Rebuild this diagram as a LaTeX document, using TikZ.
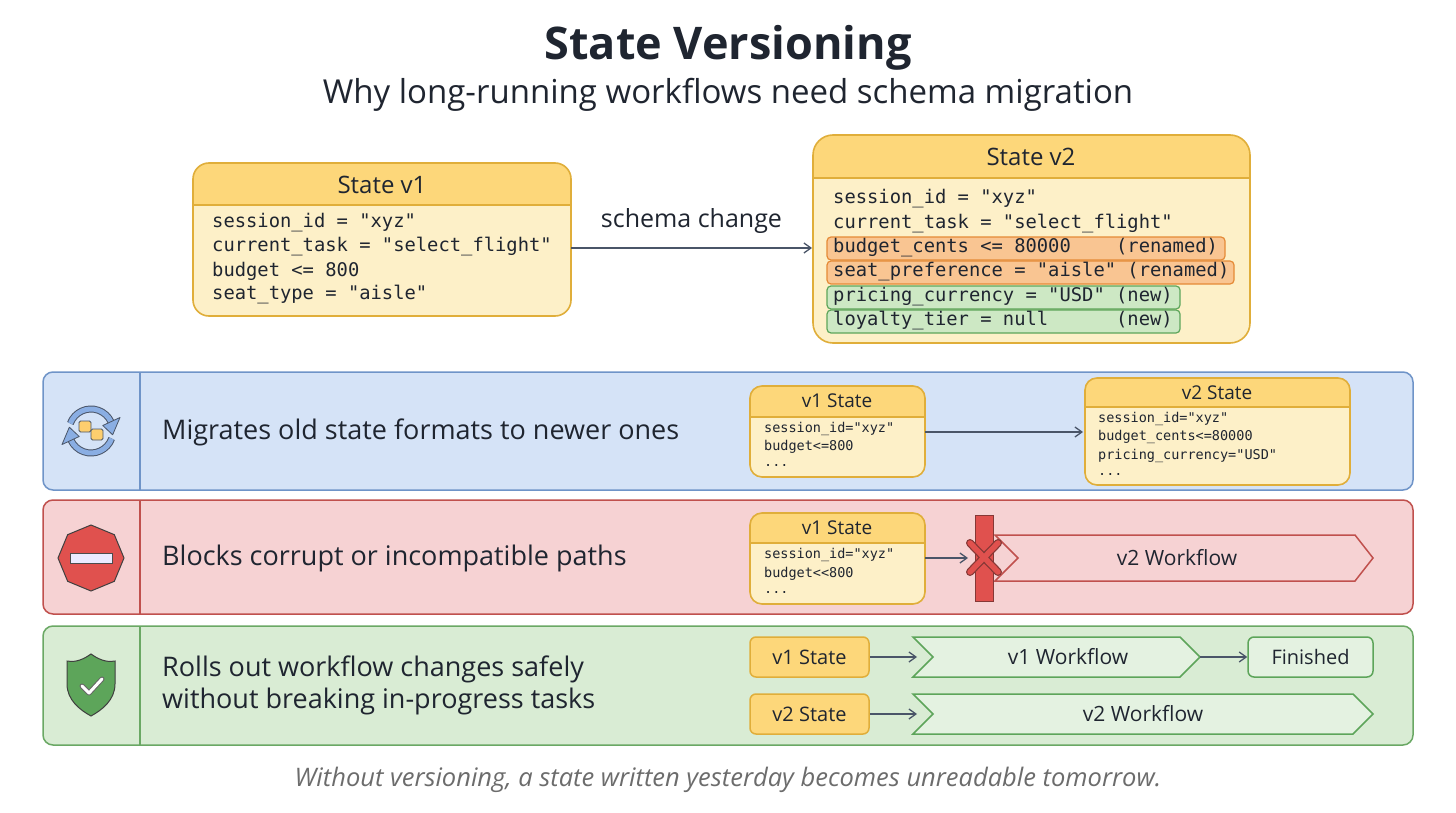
\documentclass[tikz,border=0pt]{standalone}
\usepackage{fontspec}
\setmainfont{Open Sans}
\setmonofont{DejaVu Sans Mono}
\usetikzlibrary{arrows.meta,shapes.geometric}
\definecolor{yhead}{HTML}{FDD77A}
\definecolor{ybody}{HTML}{FDF0C8}
\definecolor{yline}{HTML}{E0AE3A}
\definecolor{ofill}{HTML}{F9C592}
\definecolor{oline}{HTML}{E58A36}
\definecolor{gfill}{HTML}{CDE8C4}
\definecolor{gline}{HTML}{5DA55A}
\definecolor{bband}{HTML}{D5E3F7}
\definecolor{bbord}{HTML}{6F94C8}
\definecolor{bicon}{HTML}{8AAEE3}
\definecolor{rband}{HTML}{F6D2D3}
\definecolor{rbord}{HTML}{C0504D}
\definecolor{ricon}{HTML}{E0514E}
\definecolor{gband}{HTML}{D9ECD4}
\definecolor{gbord}{HTML}{6AA864}
\definecolor{txt}{HTML}{1F2530}
\definecolor{arr}{HTML}{4A5568}
\tikzset{
 mono/.style={font=\ttfamily\fontsize{#1}{#1}\selectfont, anchor=west, text=txt, inner sep=0},
 lbl/.style={font=\fontsize{#1}{#1}\selectfont, text=txt, inner sep=0},
 con/.style={draw=arr, line width=1.3pt, -{Straight Barb[length=7pt,width=10pt]}},
 band/.style={rounded corners=10pt, line width=1.5pt},
}
\newcommand{\statebox}[6]{% x1 y1 x2 y2 yhead r
 \fill[ybody, rounded corners=#6] (#1,#2) rectangle (#3,#4);
 \begin{scope}
 \clip[rounded corners=#6] (#1,#2) rectangle (#3,#4);
 \fill[yhead] (#1,#2) rectangle (#3,#5);
 \end{scope}
 \draw[yline,line width=1.3pt] (#1,#5) -- (#3,#5);
 \draw[yline,line width=1.6pt, rounded corners=#6] (#1,#2) rectangle (#3,#4);
}
\begin{document}
\begin{tikzpicture}[x=1pt,y=-1pt]
\useasboundingbox (0,0) rectangle (1456,813);
\fill[white] (0,0) rectangle (1456,813);
\node[lbl=45, font=\bfseries\fontsize{45}{45}\selectfont] (title) at (728,48) {State Versioning};
\node[lbl=33] (sub) at (728,95) {Why long-running workflows need schema migration};

% State v1
\statebox{193}{163}{571}{316}{205}{16pt}
\node[lbl=24] (v1h) at (382,185) {State v1};
\coordinate (v1r) at (571,248);
\node[mono=18.8] at (212,223) {session\_id = "xyz"};
\node[mono=18.8] at (212,247) {current\_task = "select\_flight"};
\node[mono=18.8] at (212,271) {budget <= 800};
\node[mono=18.8] at (212,295) {seat\_type = "aisle"};

% State v2
\statebox{813}{135}{1250}{343}{178}{20pt}
\node[lbl=24] (v2h) at (1031,157) {State v2};
\coordinate (v2l) at (812,248);
\draw[oline,fill=ofill,line width=1.2pt,rounded corners=4pt] (827,237) rectangle (1225,260);
\draw[oline,fill=ofill,line width=1.2pt,rounded corners=4pt] (827,261) rectangle (1234,284);
\draw[gline,fill=gfill,line width=1.2pt,rounded corners=4pt] (827,286) rectangle (1180,309);
\draw[gline,fill=gfill,line width=1.2pt,rounded corners=4pt] (827,310) rectangle (1180,333);
\node[mono=18.8] at (833,199) {session\_id = "xyz"};
\node[mono=18.8] at (833,224) {current\_task = "select\_flight"};
\node[mono=18.8] at (833,248) {budget\_cents <= 80000\ \ \ \ (renamed)};
\node[mono=18.8] at (833,272) {seat\_preference = "aisle" (renamed)};
\node[mono=18.8] at (833,297) {pricing\_currency = "USD" (new)};
\node[mono=18.8] at (833,321) {loyalty\_tier = null\ \ \ \ \ \ (new)};
\draw[con] (v1r) -- node[lbl=25, above=14pt] {schema change} (v2l);

% Band 1
\draw[band, fill=bband, draw=bbord] (43,372) rectangle (1413,490);
\draw[bbord, line width=1.5pt] (140,372) -- (140,490);
\node[lbl=27, anchor=west] at (162,432) {Migrates old state formats to newer ones};
% icon refresh
\begin{scope}[shift={(91,431)}]
 \draw[arr, line width=7pt] (200:22) arc (200:335:22);
 \draw[bicon, line width=5pt] (200:22) arc (200:335:22);
 \draw[arr, fill=bicon, line width=0.8pt, line join=round] (335:13) -- (335:32) -- (10:22) -- cycle;
 \draw[arr, line width=7pt] (20:22) arc (20:155:22);
 \draw[bicon, line width=5pt] (20:22) arc (20:155:22);
 \draw[arr, fill=bicon, line width=0.8pt, line join=round] (155:13) -- (155:32) -- (190:22) -- cycle;
 \draw[fill=yhead!90!orange, draw=arr, line width=0.8pt, rounded corners=1.5pt] (-12,-10) rectangle (0,1);
 \draw[fill=yhead!90!orange, draw=arr, line width=0.8pt, rounded corners=1.5pt] (0,-2) rectangle (12,9);
\end{scope}
\statebox{750}{386}{925}{477}{417}{12pt}
\node[lbl=19] (a1) at (837,401) {v1 State};
\node[mono=13.5] at (764,429) {session\_id="xyz"};
\node[mono=13.5] at (764,447) {budget<=800};
\node[mono=13.5] at (764,465) {...};
\statebox{1085}{378}{1350}{485}{407}{12pt}
\node[lbl=19] (a2) at (1217,393) {v2 State};
\node[mono=13.5] at (1098,419) {session\_id="xyz"};
\node[mono=13.5] at (1098,437) {budget\_cents<=80000};
\node[mono=13.5] at (1098,456) {pricing\_currency="USD"};
\node[mono=13.5] at (1098,474) {...};
\coordinate (a1r) at (925,432); \coordinate (a2l) at (1083,432);
\draw[con] (a1r) -- (a2l);

% Band 2
\draw[band, fill=rband, draw=rbord] (43,500) rectangle (1413,614);
\draw[rbord, line width=1.5pt] (140,500) -- (140,614);
\node[lbl=27, anchor=west] at (162,558) {Blocks corrupt or incompatible paths};
\node[regular polygon, regular polygon sides=8, minimum size=66pt, fill=ricon, draw=black!75, line width=1pt, shape border rotate=22.5] (stop) at (91,558) {};
\draw[fill=white!92!blue, draw=black!70, line width=0.8pt] (70,553) rectangle (112,563);
\statebox{750}{513}{925}{604}{543}{12pt}
\node[lbl=19] at (837,528) {v1 State};
\node[mono=13.5] at (764,555) {session\_id="xyz"};
\node[mono=13.5] at (764,574) {budget<<800};
\node[mono=13.5] at (764,592) {...};
\coordinate (b1r) at (925,558);
\draw[fill=rband, draw=rbord, line width=1.5pt] (995,535) -- (1355,535) -- (1373,558) -- (1355,581) -- (995,581) -- (1018,558) -- cycle;
\node[lbl=21] (wf2) at (1177,558) {v2 Workflow};
\draw[fill=ricon, draw=rbord!70!black, line width=1pt] (975,515) rectangle (993,601);
\coordinate (bar) at (968,558);
\draw[con] (b1r) -- (bar);
\draw[rbord!70!black, line width=8pt, line cap=round] (970,543) -- (998,572) (970,572) -- (998,543);
\draw[ricon, line width=5.5pt, line cap=round] (970,543) -- (998,572) (970,572) -- (998,543);

% Band 3
\draw[band, fill=gband, draw=gbord] (43,626) rectangle (1413,745);
\draw[gbord, line width=1.5pt] (140,626) -- (140,745);
\node[lbl=27, anchor=west] at (162,669) {Rolls out workflow changes safely};
\node[lbl=27, anchor=west] at (162,701) {without breaking in-progress tasks};
\draw[fill=gline, draw=black!75, line width=1pt] (91,654) .. controls (80,662) and (72,662) .. (67,661) -- (67,684) .. controls (67,700) and (80,710) .. (91,716) .. controls (102,710) and (115,700) .. (115,684) -- (115,661) .. controls (110,662) and (102,662) .. (91,654) -- cycle;
\draw[black!60, line width=5pt, line cap=round, line join=round] (82,686) -- (89,693) -- (102,679);
\draw[white, line width=3pt, line cap=round, line join=round] (82,686) -- (89,693) -- (102,679);
\tikzset{ys/.style={draw=yline, fill=yhead, line width=1.5pt, rounded corners=6pt, minimum width=119pt, minimum height=40pt, font=\fontsize{20}{20}\selectfont, text=txt},
 gs/.style={draw=gline, fill=gband!70!white, line width=1.5pt}}
\node[ys] (s1) at (809.5,657) {v1 State};
\node[ys] (s2) at (809.5,714) {v2 State};
\draw[gs] (913,637) -- (1180,637) -- (1200,657) -- (1180,677) -- (913,677) -- (933,657) -- cycle;
\node[lbl=21] (w1) at (1068,657) {v1 Workflow};
\draw[gs] (913,694) -- (1353,694) -- (1373,714) -- (1353,734) -- (913,734) -- (933,714) -- cycle;
\node[lbl=21] (w2) at (1143,714) {v2 Workflow};
\node[draw=gline, fill=gband!70!white, line width=1.5pt, rounded corners=6pt, minimum width=125pt, minimum height=40pt, font=\fontsize{20}{20}\selectfont, text=txt] (fin) at (1310.5,657) {Finished};
\coordinate (w1in) at (917,657); \coordinate (w2in) at (917,714); \coordinate (w1out) at (1200,657);
\draw[con] (s1) -- (w1in);
\draw[con] (s2) -- (w2in);
\draw[con] (w1out) -- (fin);

\node[lbl=25, text=gray!85!black, font=\itshape\fontsize{25.5}{25.5}\selectfont] (foot) at (728,780) {Without versioning, a state written yesterday becomes unreadable tomorrow.};
\end{tikzpicture}
\end{document}
